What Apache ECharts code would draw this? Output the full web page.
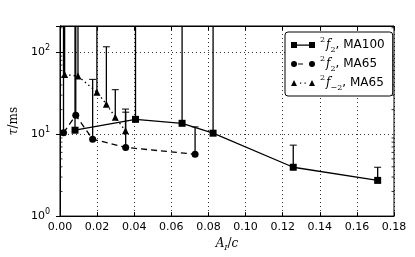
<!DOCTYPE html>
<html><head><meta charset="utf-8">
<script src="https://cdn.jsdelivr.net/npm/echarts@6/dist/echarts.min.js"></script>
<style>html,body{margin:0;padding:0;background:#fff}#c{width:415px;height:257px}</style>
</head><body><div id="c"></div>
<script>
// ---- data ----
const ma100X = [0.0081, 0.0407, 0.0658, 0.0825, 0.1257, 0.1712];
const ma100Y = [11.2, 15.2, 13.6, 10.3, 3.95, 2.73];
const ma100Up = [1000, 1000, 1000, 1000, 7.36, 3.95];

const ma65X = [0.0019, 0.0085, 0.0176, 0.0354, 0.0728];
const ma65Y = [10.4, 17.0, 8.7, 6.9, 5.7];
const ma65Up = [1000, 1000, 46.8, 18.6, 12.3];

const mneg2X = [0.0025, 0.0097, 0.0199, 0.0250, 0.0298, 0.0353];
const mneg2Y = [53.7, 51.3, 32.6, 23.3, 16.1, 11.0];
const mneg2Up = [1000, 1000, 1000, 117, 35, 20.3];

const seriesNames = ['2f2, MA100', '2f2, MA65', '2f-2, MA65'];
const legendLabels = ['{sp|2}{it|f}{sb|2}{t|, MA100}', '{sp|2}{it|f}{sb|2}{t|, MA65}', '{sp|2}{it|f}{sb|−2}{t|, MA65}'];
const xTickStep = 0.02;
const yMinorTicks = [2,3,4,5,6,7,8,9,20,30,40,50,60,70,80,90,200];

// ---- helpers ----
const pairs = (xs, ys) => xs.map((x, i) => [x, ys[i]]);
const triples = (xs, ys, us) => xs.map((x, i) => [x, ys[i], us[i]]);

function errRender(params, api) {
  const x = api.value(0), y = api.value(1), up = api.value(2);
  const cs = params.coordSys;
  const p0 = api.coord([x, y]);
  const p1 = api.coord([x, up]);
  const top = cs.y;
  const yUp = Math.max(p1[1], top);
  const ch = [{type:'line', shape:{x1:p0[0], y1:p0[1], x2:p0[0], y2:yUp}, style:{stroke:'#000', lineWidth:1.3}}];
  if (p1[1] >= top) ch.push({type:'line', shape:{x1:p0[0]-3.5, y1:p1[1], x2:p0[0]+3.5, y2:p1[1]}, style:{stroke:'#000', lineWidth:1}});
  return {type:'group', children: ch};
}
function minorRender(params, api) {
  const cs = params.coordSys;
  const p = api.coord([0, api.value(1)]);
  return {type:'group', children:[
    {type:'line', shape:{x1:cs.x, y1:p[1], x2:cs.x+2.5, y2:p[1]}, style:{stroke:'#000', lineWidth:0.8}},
    {type:'line', shape:{x1:cs.x+cs.width-2.5, y1:p[1], x2:cs.x+cs.width, y2:p[1]}, style:{stroke:'#000', lineWidth:0.8}}
  ]};
}

const icons = [
  'path://M0,0h6v6H0zM18,0h6v6h-6zM6,2.5h12v1.2H6z',
  'path://M0,3a3,3 0 1,0 6,0a3,3 0 1,0 -6,0zM18,3a3,3 0 1,0 6,0a3,3 0 1,0 -6,0zM7,2.4h5v1.2H7z',
  'path://M0,6L3,0L6,6zM18,6L21,0L24,6zM9,2.5h1.2v1.2H9zM13.5,2.5h1.2v1.2h-1.2z'
];

const supLabel = v => {
  const e = Math.log10(v);
  if (Math.abs(e - Math.round(e)) > 1e-6) return '';
  return '{b|10}{s|' + Math.round(e) + '}';
};

const chart = echarts.init(document.getElementById('c'), null, {renderer:'canvas'});
const axisCommon = {
  axisLine:{show:true, lineStyle:{color:'#000', width:1}},
  axisTick:{show:true, inside:true, length:4, lineStyle:{color:'#000', width:1}}
};
chart.setOption({
  animation:false,
  backgroundColor:'#fff',
  grid:{left:54, right:21, top:26, bottom:39, show:true, borderColor:'#000', borderWidth:1, backgroundColor:'transparent'},
  legend:{
    orient:'vertical', left:285, top:32,
    padding:[4,8,4,6], itemGap:1, itemWidth:24, itemHeight:6,
    borderColor:'#000', borderWidth:1, borderRadius:3, backgroundColor:'#fff',
    itemStyle:{borderWidth:0},
    data: seriesNames.map((n,i)=>({name:n, icon:icons[i]})),
    formatter: n => legendLabels[seriesNames.indexOf(n)],
    textStyle:{color:'#000', rich:{
      sp:{fontSize:8, fontFamily:'DejaVu Serif', verticalAlign:'top', lineHeight:18, padding:[0,1,0,0]},
      it:{fontSize:12, fontFamily:'DejaVu Serif', fontStyle:'italic', lineHeight:18},
      sb:{fontSize:8, fontFamily:'DejaVu Serif', verticalAlign:'bottom', lineHeight:18},
      t:{fontSize:12, fontFamily:'DejaVu Sans', lineHeight:18}
    }}
  },
  xAxis:[
    Object.assign({type:'value', min:0, max:0.18, interval:xTickStep, position:'bottom',
      axisLabel:{formatter:v=>v.toFixed(2), color:'#000', fontSize:11, fontFamily:'DejaVu Sans', margin:6},
      splitLine:{show:true, lineStyle:{type:[1,3], color:'#000', width:0.8}},
      name:'{it|A}{sb|I}{n|/}{it|c}', nameLocation:'middle', nameGap:18,
      nameTextStyle:{color:'#000', rich:{
        it:{fontSize:12, fontFamily:'DejaVu Serif', fontStyle:'italic', lineHeight:16},
        sb:{fontSize:8, fontFamily:'DejaVu Serif', fontStyle:'italic', verticalAlign:'bottom', lineHeight:16},
        n:{fontSize:12, fontFamily:'DejaVu Serif', lineHeight:16}
      }}
    }, axisCommon),
    Object.assign({type:'value', min:0, max:0.18, interval:xTickStep, position:'top',
      axisLabel:{show:false}, splitLine:{show:false}}, axisCommon)
  ],
  yAxis:[
    Object.assign({type:'log', logBase:10, min:1, max:210, position:'left',
      axisLabel:{formatter:supLabel, color:'#000', margin:10, showMaxLabel:false, rich:{
        b:{fontSize:11, fontFamily:'DejaVu Sans', lineHeight:16},
        s:{fontSize:8, fontFamily:'DejaVu Sans', verticalAlign:'top', lineHeight:16}
      }},
      splitLine:{show:true, lineStyle:{type:[1,3], color:'#000', width:0.8}},
      name:'{it|τ}{n|/ms}', nameLocation:'middle', nameGap:33, nameRotate:90,
      nameTextStyle:{color:'#000', rich:{
        it:{fontSize:12, fontFamily:'DejaVu Serif', fontStyle:'italic'},
        n:{fontSize:12, fontFamily:'DejaVu Serif'}
      }}
    }, axisCommon),
    Object.assign({type:'log', logBase:10, min:1, max:210, position:'right',
      axisLabel:{show:false}, splitLine:{show:false}}, axisCommon)
  ],
  series:[
    {type:'custom', name:'minor', renderItem:minorRender, data:yMinorTicks.map(v=>[0,v]), encode:{x:0,y:1}, silent:true, z:1},
    {type:'custom', name:'err100', renderItem:errRender, data:triples(ma100X, ma100Y, ma100Up), encode:{x:0,y:1}, z:2},
    {type:'custom', name:'err65', renderItem:errRender, data:triples(ma65X, ma65Y, ma65Up), encode:{x:0,y:1}, z:2},
    {type:'custom', name:'errm2', renderItem:errRender, data:triples(mneg2X, mneg2Y, mneg2Up), encode:{x:0,y:1}, z:2},
    {type:'line', name:seriesNames[0], data:pairs(ma100X, ma100Y), symbol:'rect', symbolSize:7,
      itemStyle:{color:'#000', borderWidth:0}, lineStyle:{color:'#000', width:1.3}, z:3},
    {type:'line', name:seriesNames[1], data:pairs(ma65X, ma65Y), symbol:'circle', symbolSize:7,
      itemStyle:{color:'#000', borderWidth:0}, lineStyle:{color:'#000', width:1.3, type:[6,4]}, z:3},
    {type:'line', name:seriesNames[2], data:pairs(mneg2X, mneg2Y), symbol:'triangle', symbolSize:7,
      itemStyle:{color:'#000', borderWidth:0}, lineStyle:{color:'#000', width:1.3, type:[1.5,3]}, z:3}
  ]
});
</script></body></html>
